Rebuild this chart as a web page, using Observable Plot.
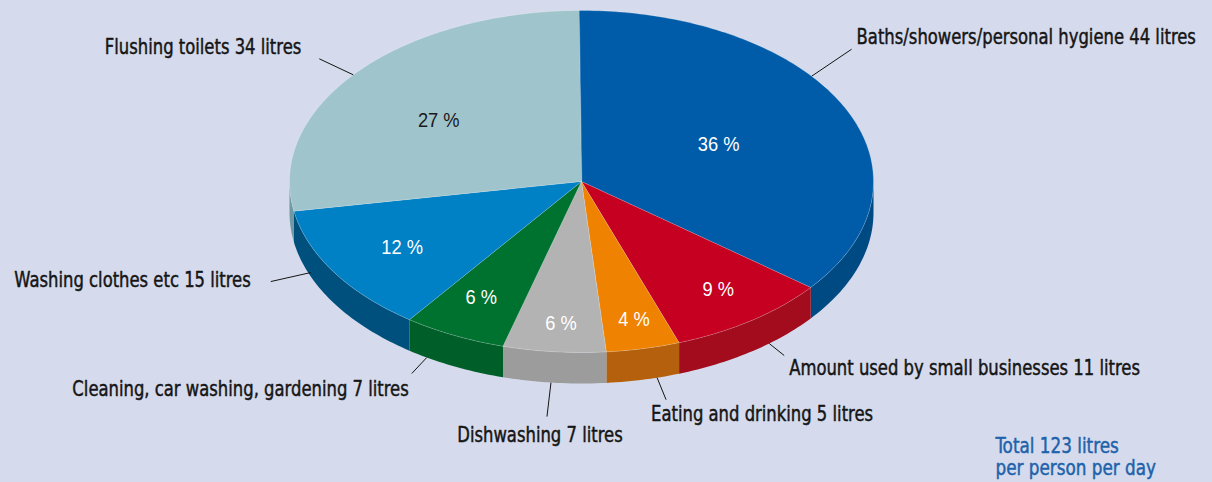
<!DOCTYPE html>
<html>
<head>
<meta charset="utf-8">
<script src="https://cdn.jsdelivr.net/npm/d3@7"></script>
<script src="https://cdn.jsdelivr.net/npm/@observablehq/plot@0.6"></script>
<style>
  html, body { margin: 0; padding: 0; background: #d5dbec; }
  #chart svg { display: block; }
</style>
</head>
<body>
<div id="chart"></div>
<script>
// ---- data ----
const categories = [
  "Baths/showers/personal hygiene",
  "Amount used by small businesses",
  "Eating and drinking",
  "Dishwashing",
  "Cleaning, car washing, gardening",
  "Washing clothes etc",
  "Flushing toilets"
];
const litres = [44, 11, 5, 7, 7, 15, 34];
const percents = [36, 9, 4, 6, 6, 12, 27];
const unit = "litres";
const totalLines = ["Total {t} litres", "per person per day"];

// ---- styles ----
const topColors  = ["#005ca8", "#c60021", "#ef8200", "#b3b3b3", "#00722f", "#0080c5", "#9fc4cb"];
const sideColors = ["#004a84", "#a20c1d", "#b4600c", "#9c9c9c", "#005f29", "#00507e", "#6f9aa3"];
const pctColors  = ["#fff", "#fff", "#fff", "#fff", "#fff", "#fff", "#1a1a1a"];
const labelFont = "'DejaVu Sans Condensed', 'DejaVu Sans', sans-serif";
const squash = 0.89;      // horizontal condensing of label glyphs
const pctSquash = 0.87;

// ---- layout ----
const W = 1212, H = 482;
const geom = {cx: 581, cy: 181, rx: 292, ry: 171, depth: 31, startDeg: -0.5};
const labelLayout = [
  {a: 52,   side: false, ldx: 40,  ldy: -27, tdx: 5,   tdy: -12, anchor: "start"},
  {a: 140,  side: true,  ldx: 15,  ldy: 12,  tdx: 5,   tdy: 13,  anchor: "start"},
  {a: 165,  side: true,  ldx: 9,   ldy: 22,  tdx: -15, tdy: 15,  anchor: "start"},
  {a: 186,  side: true,  ldx: -4,  ldy: 34,  tdx: -7,  tdy: 19,  anchor: "middle"},
  {a: 212,  side: true,  ldx: -15, ldy: 16,  tdx: -3,  tdy: 16,  anchor: "end"},
  {a: 248,  side: true,  ldx: -40, ldy: 9,   tdx: -20, tdy: -1,  anchor: "end", up: 4},
  {a: 308.6,side: false, ldx: -34, ldy: -16, tdx: -18, tdy: -11, anchor: "end"}
];
const pctRadius = [0.5, 0.78, 0.8, 0.83, 0.78, 0.72, 0.6];
const pctNudge = [[6, 0], [4, -1], [3, 4], [2, 0], [-1, -4], [-1, 1], [-8, 4]];
const totalPos = {x: 995, y: 446, lh: 22};

const rad = d => d * Math.PI / 180;
const px = t => geom.cx + geom.rx * Math.sin(rad(t));
const py = t => geom.cy - geom.ry * Math.cos(rad(t));

const pie = d3.pie().sort(null).value(d => d)(litres);
const slices = pie.map((p, i) => ({
  i,
  a0: geom.startDeg + p.startAngle * 180 / Math.PI,
  a1: geom.startDeg + p.endAngle * 180 / Math.PI
}));

const N = 120;
const topPts = [], sidePts = [];
for (const s of slices) {
  topPts.push({id: "t" + s.i, x: geom.cx, y: geom.cy, c: topColors[s.i]});
  const n = Math.max(4, Math.ceil((s.a1 - s.a0) / 360 * N * 3));
  for (let k = 0; k <= n; k++) {
    const t = s.a0 + (s.a1 - s.a0) * k / n;
    topPts.push({id: "t" + s.i, x: px(t), y: py(t), c: topColors[s.i]});
  }
  const s0 = Math.max(s.a0, 90), s1 = Math.min(s.a1, 270);
  if (s1 > s0) {
    const m = Math.max(4, Math.ceil((s1 - s0) / 360 * N * 3));
    for (let k = 0; k <= m; k++) {
      const t = s0 + (s1 - s0) * k / m;
      sidePts.push({id: "s" + s.i, x: px(t), y: py(t), c: sideColors[s.i]});
    }
    for (let k = m; k >= 0; k--) {
      const t = s0 + (s1 - s0) * k / m;
      sidePts.push({id: "s" + s.i, x: px(t), y: py(t) + geom.depth, c: sideColors[s.i]});
    }
  }
}

const leaders = [], labels = [], pcts = [];
slices.forEach((s, i) => {
  const L = labelLayout[i];
  const x1 = px(L.a), y1 = py(L.a) + (L.side ? geom.depth - (L.up || 0) : 0);
  const x2 = x1 + L.ldx, y2 = y1 + L.ldy;
  leaders.push({x1, y1, x2, y2});
  labels.push({x: x2 + L.tdx, y: y2 + L.tdy, anchor: L.anchor,
    text: `${categories[i]} ${litres[i]} ${unit}`});
  const mid = (s.a0 + s.a1) / 2, r = pctRadius[i];
  pcts.push({x: geom.cx + geom.rx * r * Math.sin(rad(mid)) + pctNudge[i][0],
             y: geom.cy - geom.ry * r * Math.cos(rad(mid)) + pctNudge[i][1],
             text: `${percents[i]} %`, c: pctColors[i]});
});
const total = d3.sum(litres);
const totals = totalLines.map((t, k) => ({x: totalPos.x, y: totalPos.y + k * totalPos.lh,
  text: t.replace("{t}", total)}));

const textOpts = anchor => ({x: "x", y: "y", text: "text", fontFamily: labelFont,
  fontSize: 20.5, fill: "#151515", stroke: "#151515", strokeWidth: 0.45,
  textAnchor: anchor, className: "lbl"});

const chart = Plot.plot({
  width: W, height: H, margin: 0,
  x: {domain: [0, W], range: [0, W], axis: null},
  y: {domain: [0, H], range: [0, H], axis: null},
  color: {type: "identity"},
  style: {background: "#d5dbec", overflow: "visible"},
  marks: [
    Plot.line(sidePts, {x: "x", y: "y", z: "id", fill: "c", stroke: "none", curve: "linear"}),
    Plot.line(topPts, {x: "x", y: "y", z: "id", fill: "c", stroke: "#ffffff",
      strokeOpacity: 0.35, strokeWidth: 0.6, curve: "linear-closed"}),
    Plot.link(leaders, {x1: "x1", y1: "y1", x2: "x2", y2: "y2", stroke: "#151515", strokeWidth: 1}),
    Plot.text(labels.filter(d => d.anchor === "start"), textOpts("start")),
    Plot.text(labels.filter(d => d.anchor === "middle"), textOpts("middle")),
    Plot.text(labels.filter(d => d.anchor === "end"), textOpts("end")),
    Plot.text(pcts, {x: "x", y: "y", text: "text", fill: "c", fontSize: 21,
      fontFamily: "'Liberation Sans', Arial, sans-serif", textAnchor: "middle", className: "pct"}),
    Plot.text(totals, {x: "x", y: "y", text: "text", fill: "#1d62ab", stroke: "#1d62ab",
      strokeWidth: 0.45, fontSize: 21, fontFamily: labelFont, textAnchor: "start", className: "lbl"})
  ]
});
document.getElementById("chart").append(chart);

// condense glyphs horizontally (the reference uses a narrow typeface)
function condense(sel, k) {
  chart.querySelectorAll(sel).forEach(t => {
    const len = t.getComputedTextLength();
    t.setAttribute("textLength", (len * k).toFixed(1));
    t.setAttribute("lengthAdjust", "spacingAndGlyphs");
  });
}
condense(".lbl text", squash);
condense(".pct text", pctSquash);
</script>
</body>
</html>
